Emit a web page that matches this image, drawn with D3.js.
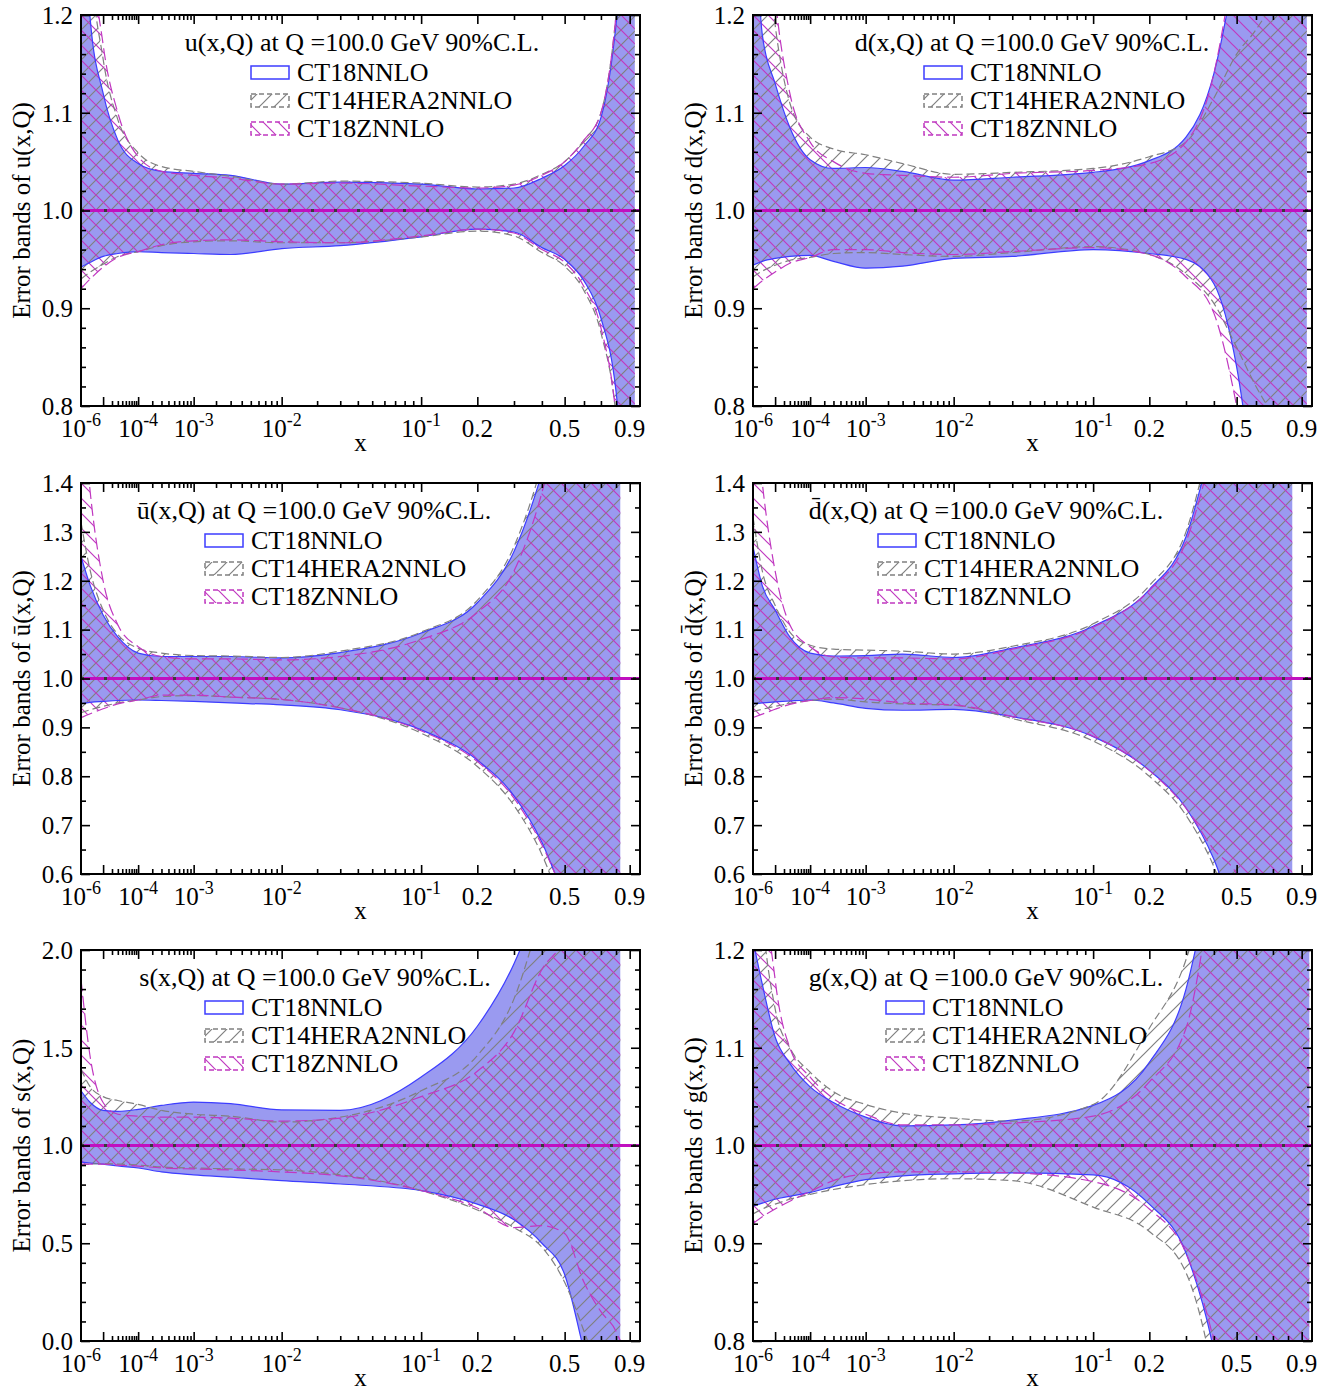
<!DOCTYPE html>
<html>
<head>
<meta charset="utf-8">
<script src="https://cdn.jsdelivr.net/npm/d3@7"></script>
<style>
  body { margin: 0; background: #fff; }
  text { font-family: "Liberation Serif", "Times New Roman", serif; fill: #000; }
</style>
</head>
<body>
<script>
// x grid shared by every band; the last point of each band is the panel's xEnd
const xGrid = [1e-6, 3e-6, 1e-5, 3e-5, 1e-4, 3e-4, 1e-3, 3e-3, 1e-2, 3e-2, 0.1, 0.2, 0.3, 0.4, 0.5, 0.6, 0.7, 0.8];

// u(x,Q)
const uCT18Up  = [1.40, 1.195, 1.12, 1.072, 1.048, 1.040, 1.038, 1.036, 1.027, 1.029, 1.027, 1.022, 1.023, 1.033, 1.046, 1.066, 1.095, 1.19, 1.45];
const uCT18Lo  = [0.942, 0.947, 0.953, 0.956, 0.958, 0.957, 0.956, 0.955, 0.961, 0.964, 0.973, 0.981, 0.978, 0.962, 0.950, 0.928, 0.89, 0.815, 0.55];
const uCT14Up  = [1.50, 1.27, 1.155, 1.093, 1.059, 1.045, 1.040, 1.035, 1.027, 1.030, 1.028, 1.024, 1.027, 1.037, 1.050, 1.072, 1.10, 1.20, 1.5];
const uCT14Lo  = [0.930, 0.937, 0.945, 0.953, 0.958, 0.964, 0.968, 0.969, 0.967, 0.967, 0.973, 0.979, 0.974, 0.957, 0.943, 0.918, 0.875, 0.79, 0.5];
const uCT18ZUp = [1.60, 1.30, 1.17, 1.10, 1.055, 1.040, 1.036, 1.033, 1.027, 1.028, 1.025, 1.023, 1.026, 1.036, 1.050, 1.072, 1.10, 1.20, 1.5];
const uCT18ZLo = [0.920, 0.930, 0.942, 0.952, 0.958, 0.965, 0.969, 0.970, 0.968, 0.967, 0.974, 0.981, 0.977, 0.960, 0.947, 0.922, 0.88, 0.79, 0.5];

// d(x,Q)
const dCT18Up  = [1.35, 1.18, 1.13, 1.085, 1.052, 1.043, 1.044, 1.040, 1.031, 1.034, 1.039, 1.051, 1.075, 1.14, 1.26, 1.40, 1.60, 1.80, 2.0];
const dCT18Lo  = [0.944, 0.948, 0.951, 0.953, 0.954, 0.948, 0.941, 0.943, 0.951, 0.953, 0.960, 0.956, 0.950, 0.925, 0.84, 0.70, 0.55, 0.40, 0.25];
const dCT14Up  = [1.60, 1.32, 1.19, 1.11, 1.075, 1.063, 1.057, 1.048, 1.037, 1.039, 1.043, 1.055, 1.07, 1.115, 1.16, 1.185, 1.215, 1.26, 1.30];
const dCT14Lo  = [0.932, 0.938, 0.944, 0.949, 0.952, 0.956, 0.957, 0.955, 0.953, 0.957, 0.963, 0.955, 0.935, 0.905, 0.86, 0.82, 0.79, 0.76, 0.72];
const dCT18ZUp = [1.80, 1.40, 1.22, 1.12, 1.07, 1.05, 1.038, 1.036, 1.034, 1.038, 1.041, 1.048, 1.07, 1.14, 1.28, 1.45, 1.65, 1.85, 2.0];
const dCT18ZLo = [0.920, 0.928, 0.937, 0.946, 0.952, 0.960, 0.960, 0.957, 0.955, 0.958, 0.962, 0.955, 0.932, 0.895, 0.80, 0.68, 0.55, 0.40, 0.25];

// ubar(x,Q)
const ubCT18Up  = [1.25, 1.19, 1.13, 1.085, 1.052, 1.045, 1.045, 1.045, 1.042, 1.053, 1.093, 1.155, 1.26, 1.42, 1.6, 1.8, 2.0, 2.2, 2.3];
const ubCT18Lo  = [0.948, 0.951, 0.953, 0.955, 0.956, 0.955, 0.953, 0.950, 0.946, 0.936, 0.895, 0.833, 0.760, 0.665, 0.55, 0.45, 0.35, 0.25, 0.2];
const ubCT14Up  = [1.32, 1.22, 1.14, 1.09, 1.062, 1.052, 1.047, 1.046, 1.043, 1.056, 1.095, 1.16, 1.27, 1.44, 1.65, 1.85, 2.05, 2.25, 2.35];
const ubCT14Lo  = [0.930, 0.936, 0.943, 0.950, 0.956, 0.963, 0.965, 0.962, 0.957, 0.940, 0.888, 0.82, 0.74, 0.64, 0.52, 0.42, 0.32, 0.22, 0.18];
const ubCT18ZUp = [1.60, 1.38, 1.20, 1.11, 1.065, 1.045, 1.040, 1.040, 1.038, 1.045, 1.080, 1.135, 1.22, 1.38, 1.58, 1.78, 1.98, 2.18, 2.28];
const ubCT18ZLo = [0.920, 0.928, 0.938, 0.948, 0.956, 0.966, 0.966, 0.962, 0.957, 0.940, 0.893, 0.83, 0.755, 0.66, 0.56, 0.50, 0.40, 0.30, 0.25];

// dbar(x,Q)
const dbCT18Up  = [1.27, 1.19, 1.14, 1.085, 1.052, 1.046, 1.047, 1.05, 1.043, 1.062, 1.107, 1.182, 1.29, 1.5, 1.7, 1.9, 2.1, 2.3, 2.35];
const dbCT18Lo  = [0.948, 0.950, 0.952, 0.954, 0.956, 0.950, 0.939, 0.935, 0.937, 0.922, 0.881, 0.812, 0.735, 0.63, 0.5, 0.4, 0.3, 0.2, 0.15];
const dbCT14Up  = [1.33, 1.22, 1.15, 1.095, 1.068, 1.060, 1.058, 1.056, 1.050, 1.066, 1.112, 1.19, 1.30, 1.52, 1.72, 1.92, 2.12, 2.32, 2.38];
const dbCT14Lo  = [0.932, 0.937, 0.943, 0.949, 0.955, 0.958, 0.952, 0.948, 0.945, 0.918, 0.872, 0.80, 0.72, 0.615, 0.49, 0.39, 0.29, 0.19, 0.14];
const dbCT18ZUp = [1.60, 1.40, 1.22, 1.11, 1.065, 1.044, 1.042, 1.042, 1.040, 1.060, 1.105, 1.18, 1.28, 1.48, 1.68, 1.88, 2.08, 2.28, 2.33];
const dbCT18ZLo = [0.920, 0.927, 0.937, 0.947, 0.955, 0.961, 0.958, 0.950, 0.946, 0.922, 0.882, 0.812, 0.735, 0.65, 0.60, 0.50, 0.40, 0.30, 0.25];

// s(x,Q)
const sCT18Up  = [1.28, 1.22, 1.18, 1.175, 1.185, 1.205, 1.222, 1.214, 1.182, 1.18, 1.35, 1.61, 1.93, 2.3, 2.7, 3.0, 3.3, 3.6, 3.7];
const sCT18Lo  = [0.915, 0.91, 0.905, 0.895, 0.885, 0.865, 0.85, 0.838, 0.82, 0.803, 0.769, 0.70, 0.62, 0.50, 0.34, -0.05, -0.4, -0.8, -0.9];
const sCT14Up  = [1.39, 1.30, 1.25, 1.23, 1.21, 1.18, 1.16, 1.15, 1.12, 1.145, 1.28, 1.46, 1.75, 2.2, 2.6, 2.9, 3.2, 3.5, 3.6];
const sCT14Lo  = [0.90, 0.905, 0.908, 0.905, 0.90, 0.89, 0.885, 0.88, 0.875, 0.85, 0.77, 0.67, 0.58, 0.48, 0.30, 0.05, -0.2, -0.5, -0.6];
const sCT18ZUp = [1.85, 1.45, 1.22, 1.16, 1.15, 1.145, 1.145, 1.14, 1.125, 1.14, 1.25, 1.38, 1.58, 1.9, 2.05, 2.3, 2.5, 2.7, 2.8];
const sCT18ZLo = [0.905, 0.905, 0.905, 0.90, 0.895, 0.885, 0.88, 0.875, 0.865, 0.845, 0.77, 0.68, 0.58, 0.59, 0.55, 0.30, 0.15, 0.05, 0.0];

// g(x,Q)
const gCT18Up  = [1.21, 1.165, 1.111, 1.084, 1.06, 1.044, 1.029, 1.02, 1.021, 1.026, 1.041, 1.085, 1.16, 1.3, 1.45, 1.6, 1.75, 1.9, 2.0];
const gCT18Lo  = [0.938, 0.941, 0.945, 0.948, 0.952, 0.958, 0.965, 0.969, 0.971, 0.972, 0.970, 0.94, 0.89, 0.79, 0.65, 0.5, 0.35, 0.2, 0.1];
const gCT14Up  = [1.40, 1.24, 1.14, 1.10, 1.075, 1.055, 1.042, 1.033, 1.028, 1.025, 1.042, 1.12, 1.19, 1.3, 1.45, 1.6, 1.75, 1.9, 2.0];
const gCT14Lo  = [0.93, 0.935, 0.94, 0.945, 0.95, 0.955, 0.96, 0.964, 0.966, 0.964, 0.937, 0.912, 0.87, 0.76, 0.6, 0.45, 0.3, 0.15, 0.1];
const gCT18ZUp = [1.60, 1.32, 1.17, 1.10, 1.07, 1.048, 1.032, 1.021, 1.021, 1.023, 1.03, 1.065, 1.12, 1.28, 1.45, 1.6, 1.75, 1.9, 2.0];
const gCT18ZLo = [0.92, 0.927, 0.935, 0.943, 0.953, 0.964, 0.971, 0.973, 0.973, 0.972, 0.963, 0.935, 0.89, 0.80, 0.68, 0.55, 0.4, 0.25, 0.15];

// axis ticks / labels
const xMajor = [1e-5, 1e-4, 1e-3, 1e-2, 0.1, 0.2, 0.5, 0.9];
const xMinor = [2e-5, 3e-5, 4e-5, 5e-5, 6e-5, 7e-5, 8e-5, 9e-5,
                2e-4, 3e-4, 4e-4, 5e-4, 6e-4, 7e-4, 8e-4, 9e-4,
                2e-3, 3e-3, 4e-3, 5e-3, 6e-3, 7e-3, 8e-3, 9e-3,
                2e-2, 3e-2, 4e-2, 5e-2, 6e-2, 7e-2, 8e-2, 9e-2,
                0.3, 0.4, 0.6, 0.7, 0.8];
const xLabelVals = [1e-6, 1e-4, 1e-3, 1e-2, 0.1, 0.2, 0.5, 0.9];
const xLabelBase = ["10", "10", "10", "10", "10", "0.2", "0.5", "0.9"];
const xLabelExp  = ["-6", "-4", "-3", "-2", "-1", "", "", ""];

const setNames = ["CT18NNLO", "CT14HERA2NNLO", "CT18ZNNLO"];

const W = 559, H = 391;
const blueFill = "#9a9af0", blueLine = "#3d3dff";
const grayLine = "#808080", magLine = "#c038c0";

const panels = [
  {name: "u(x,Q)", left: 81, top: 15, yDom: [0.8, 1.2], major: 0.1, minor: 0.02, xEnd: 0.94, titleX: 362, legX: 251,
   bands: [[uCT18Lo, uCT18Up], [uCT14Lo, uCT14Up], [uCT18ZLo, uCT18ZUp]]},
  {name: "d(x,Q)", left: 753, top: 15, yDom: [0.8, 1.2], major: 0.1, minor: 0.02, xEnd: 0.94, titleX: 1032, legX: 924,
   bands: [[dCT18Lo, dCT18Up], [dCT14Lo, dCT14Up], [dCT18ZLo, dCT18ZUp]]},
  {name: "\u016B(x,Q)", left: 81, top: 483, yDom: [0.6, 1.4], major: 0.1, minor: 0.05, xEnd: 0.83, titleX: 314, legX: 205,
   bands: [[ubCT18Lo, ubCT18Up], [ubCT14Lo, ubCT14Up], [ubCT18ZLo, ubCT18ZUp]]},
  {name: "d\u0304(x,Q)", left: 753, top: 483, yDom: [0.6, 1.4], major: 0.1, minor: 0.05, xEnd: 0.83, titleX: 986, legX: 878,
   bands: [[dbCT18Lo, dbCT18Up], [dbCT14Lo, dbCT14Up], [dbCT18ZLo, dbCT18ZUp]]},
  {name: "s(x,Q)", left: 81, top: 950, yDom: [0.0, 2.0], major: 0.5, minor: 0.1, xEnd: 0.83, titleX: 315, legX: 205,
   bands: [[sCT18Lo, sCT18Up], [sCT14Lo, sCT14Up], [sCT18ZLo, sCT18ZUp]]},
  {name: "g(x,Q)", left: 753, top: 950, yDom: [0.8, 1.2], major: 0.1, minor: 0.02, xEnd: 0.96, titleX: 986, legX: 886,
   bands: [[gCT18Lo, gCT18Up], [gCT14Lo, gCT14Up], [gCT18ZLo, gCT18ZUp]]}
];

const svg = d3.select("body").append("svg")
    .attr("width", 1338)
    .attr("height", 1391);
const defs = svg.append("defs");

// diagonal hatch; dir 1 = "/" , dir -1 = "\"
function hatch(id, color, dir, s) {
  const p = defs.append("pattern")
      .attr("id", id)
      .attr("patternUnits", "userSpaceOnUse")
      .attr("width", s).attr("height", s);
  const d = dir > 0
    ? `M0,${s}L${s},0M${-s/4},${s/4}L${s/4},${-s/4}M${3*s/4},${5*s/4}L${5*s/4},${3*s/4}`
    : `M0,0L${s},${s}M${-s/4},${3*s/4}L${s/4},${5*s/4}M${3*s/4},${-s/4}L${5*s/4},${s/4}`;
  p.append("path").attr("d", d)
      .attr("stroke", color).attr("stroke-width", 1.2).attr("fill", "none");
}
hatch("hGray", grayLine, 1, 15);
hatch("hMag", magLine, -1, 15);

// x axis: x^0.2 scale
const x = d3.scalePow().exponent(0.2).domain([1e-6, 0.982]).range([0, W]);

panels.forEach(function(p, i) {
  const y = d3.scaleLinear().domain(p.yDom).range([H, 0]);
  const xs = xGrid.concat([p.xEnd]);

  const g = svg.append("g").attr("transform", "translate(" + p.left + "," + p.top + ")");

  defs.append("clipPath").attr("id", "clip" + i)
    .append("rect").attr("width", W).attr("height", H);

  const plot = g.append("g").attr("clip-path", "url(#clip" + i + ")");

  const area = d3.area()
      .x(d => x(d[0])).y0(d => y(d[1])).y1(d => y(d[2]))
      .curve(d3.curveMonotoneX);
  const lineLo = d3.line().x(d => x(d[0])).y(d => y(d[1])).curve(d3.curveMonotoneX);
  const lineUp = d3.line().x(d => x(d[0])).y(d => y(d[2])).curve(d3.curveMonotoneX);

  const bandData = p.bands.map(b => xs.map((xv, k) => [xv, b[0][k], b[1][k]]));

  // CT18NNLO: solid fill
  plot.append("path").datum(bandData[0])
      .attr("d", area).attr("fill", blueFill);

  // CT14HERA2NNLO and CT18ZNNLO: hatching
  plot.append("path").datum(bandData[1])
      .attr("d", area).attr("fill", "url(#hGray)");
  plot.append("path").datum(bandData[2])
      .attr("d", area).attr("fill", "url(#hMag)");

  // outlines
  [lineLo, lineUp].forEach(function(ln) {
    plot.append("path").datum(bandData[0]).attr("d", ln)
        .attr("fill", "none").attr("stroke", blueLine).attr("stroke-width", 1.2);
    plot.append("path").datum(bandData[1]).attr("d", ln)
        .attr("fill", "none").attr("stroke", grayLine).attr("stroke-width", 1.2)
        .attr("stroke-dasharray", "8,4");
    plot.append("path").datum(bandData[2]).attr("d", ln)
        .attr("fill", "none").attr("stroke", magLine).attr("stroke-width", 1.2)
        .attr("stroke-dasharray", "12,5");
  });

  // central value line at 1
  plot.append("line")
      .attr("x1", 0).attr("x2", W).attr("y1", y(1)).attr("y2", y(1))
      .attr("stroke", "#c010c0").attr("stroke-width", 3);
  plot.append("line")
      .attr("x1", 0).attr("x2", W).attr("y1", y(1)).attr("y2", y(1))
      .attr("stroke", "#3a3a3a").attr("stroke-width", 3)
      .attr("stroke-dasharray", "3,20");

  // ticks (inward, all four sides)
  const yMajor = d3.range(0, Math.round((p.yDom[1] - p.yDom[0]) / p.major) + 1)
      .map(k => +(p.yDom[0] + k * p.major).toFixed(3));
  const yMinor = d3.range(0, Math.round((p.yDom[1] - p.yDom[0]) / p.minor) + 1)
      .map(k => +(p.yDom[0] + k * p.minor).toFixed(3))
      .filter(v => !yMajor.some(m => Math.abs(m - v) < 1e-6));

  function ticks(axis, vals, len, tr) {
    g.append("g").attr("transform", tr)
        .call(axis.tickValues(vals).tickSize(len).tickFormat(""))
        .call(s => s.select(".domain").remove())
        .selectAll("line").attr("stroke", "#000").attr("stroke-width", 1.6);
  }
  ticks(d3.axisBottom(x), xMajor, -9, "translate(0," + H + ")");
  ticks(d3.axisBottom(x), xMinor, -5, "translate(0," + H + ")");
  ticks(d3.axisTop(x), xMajor, -9, "translate(0,0)");
  ticks(d3.axisTop(x), xMinor, -5, "translate(0,0)");
  ticks(d3.axisLeft(y), yMajor, -9, "translate(0,0)");
  ticks(d3.axisLeft(y), yMinor, -5, "translate(0,0)");
  ticks(d3.axisRight(y), yMajor, -9, "translate(" + W + ",0)");
  ticks(d3.axisRight(y), yMinor, -5, "translate(" + W + ",0)");

  // frame
  g.append("rect").attr("width", W).attr("height", H)
      .attr("fill", "none").attr("stroke", "#000").attr("stroke-width", 2);

  // y tick labels
  g.selectAll(".ylab").data(yMajor).enter().append("text")
      .attr("x", -8).attr("y", d => y(d)).attr("dy", "0.35em")
      .attr("text-anchor", "end").style("font-size", "25px")
      .text(d => d3.format(".1f")(d));

  // x tick labels
  xLabelVals.forEach(function(v, k) {
    const t = g.append("text")
        .attr("x", x(v)).attr("y", H + 31)
        .attr("text-anchor", "middle").style("font-size", "25px");
    t.append("tspan").text(xLabelBase[k]);
    if (xLabelExp[k]) {
      t.append("tspan").attr("dy", -11).style("font-size", "18px").text(xLabelExp[k]);
    }
  });

  // axis titles
  g.append("text")
      .attr("x", W / 2).attr("y", H + 45)
      .attr("text-anchor", "middle").style("font-size", "25px").text("x");
  g.append("text")
      .attr("transform", "translate(-51," + (H / 2) + ") rotate(-90)")
      .attr("text-anchor", "middle").style("font-size", "25px")
      .text("Error bands of " + p.name);

  // title
  g.append("text")
      .attr("x", p.titleX - p.left).attr("y", 36)
      .attr("text-anchor", "middle").style("font-size", "26px")
      .text(p.name + " at Q =100.0 GeV 90%C.L.");

  // legend
  const lx = p.legX - p.left;
  setNames.forEach(function(nm, k) {
    const by = 66 + 28 * k;
    const box = g.append("rect")
        .attr("x", lx).attr("y", by - 15).attr("width", 38).attr("height", 13)
        .attr("stroke-width", 1.5);
    if (k === 0) box.attr("fill", "#fff").attr("stroke", blueLine);
    if (k === 1) box.attr("fill", "url(#hGray)").attr("stroke", grayLine).attr("stroke-dasharray", "5,3");
    if (k === 2) box.attr("fill", "url(#hMag)").attr("stroke", magLine).attr("stroke-dasharray", "5,3");
    g.append("text")
        .attr("x", lx + 46).attr("y", by)
        .style("font-size", "26px").text(nm);
  });
});
</script>
</body>
</html>
